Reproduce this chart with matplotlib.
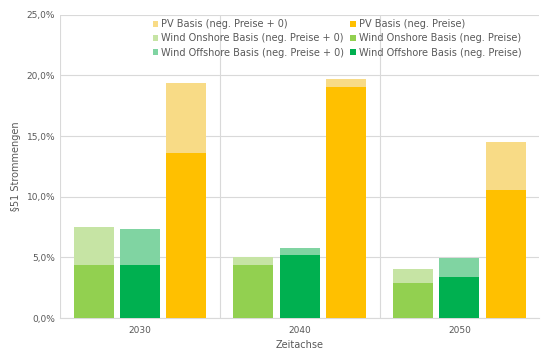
import numpy as np
import matplotlib
matplotlib.use("Agg")
import matplotlib.pyplot as plt
from matplotlib.ticker import FuncFormatter

# ------------------------------------------------------------------ data (%)
years = ["2030", "2040", "2050"]

onshore_neg  = [4.4, 4.35, 2.9]    # Wind Onshore Basis (neg. Preise)
onshore_zero = [7.5, 5.0, 4.0]     # Wind Onshore Basis (neg. Preise + 0)
offshore_neg  = [4.4, 5.2, 3.4]    # Wind Offshore Basis (neg. Preise)
offshore_zero = [7.35, 5.8, 4.95]  # Wind Offshore Basis (neg. Preise + 0)
pv_neg  = [13.6, 19.05, 10.55]     # PV Basis (neg. Preise)
pv_zero = [19.4, 19.7, 14.55]      # PV Basis (neg. Preise + 0)

y_ticks = [0, 5, 10, 15, 20, 25]

# ------------------------------------------------------------------ style
C_ON_D, C_ON_L = "#92D050", "#C6E4A4"
C_OFF_D, C_OFF_L = "#00B050", "#80D4A2"
C_PV_D, C_PV_L = "#FFC000", "#F8DB86"
GRID = "#D9D9D9"
TXT = "#595959"

fig = plt.figure(figsize=(5.42, 3.51), dpi=100)
ax = fig.add_axes([0.111, 0.094, 0.884, 0.864])

x = np.arange(len(years))
w = 0.25
off = 0.29

# light bars (total incl. +0) drawn behind, dark bars on top
b_on_l = ax.bar(x - off, onshore_zero, w, color=C_ON_L, zorder=2)
b_off_l = ax.bar(x, offshore_zero, w, color=C_OFF_L, zorder=2)
b_pv_l = ax.bar(x + off, pv_zero, w, color=C_PV_L, zorder=2)
b_on_d = ax.bar(x - off, onshore_neg, w, color=C_ON_D, zorder=3)
b_off_d = ax.bar(x, offshore_neg, w, color=C_OFF_D, zorder=3)
b_pv_d = ax.bar(x + off, pv_neg, w, color=C_PV_D, zorder=3)

ax.set_xlim(-0.5, len(years) - 0.5)
ax.set_ylim(0, 25)
ax.set_yticks(y_ticks)
ax.yaxis.set_major_formatter(FuncFormatter(lambda v, _: f"{v:.1f}%".replace(".", ",")))
ax.set_xticks(x)
ax.set_xticklabels(years)
ax.tick_params(axis="both", length=0, colors=TXT, labelsize=6.5)
ax.tick_params(axis="x", pad=6)

ax.yaxis.grid(True, color=GRID, linewidth=0.8, zorder=0)
# category separators (no line on the right edge)
for xs in np.arange(-0.5, len(years) - 1, 1.0):
    ax.axvline(xs, color=GRID, linewidth=0.8, zorder=0)
for s in ["top", "right", "left"]:
    ax.spines[s].set_visible(False)
ax.spines["bottom"].set_color(GRID)

ax.set_ylabel("§51 Strommengen", color=TXT, fontsize=7, labelpad=4)
ax.set_xlabel("Zeitachse", color=TXT, fontsize=7, labelpad=3)

handles = [b_pv_l, b_on_l, b_off_l, b_pv_d, b_on_d, b_off_d]
labels = [
    "PV Basis (neg. Preise + 0)",
    "Wind Onshore Basis (neg. Preise + 0)",
    "Wind Offshore Basis (neg. Preise + 0)",
    "PV Basis (neg. Preise)",
    "Wind Onshore Basis (neg. Preise)",
    "Wind Offshore Basis (neg. Preise)",
]
leg = ax.legend(handles, labels, ncol=2, loc="upper right",
                bbox_to_anchor=(0.975, 1.005), frameon=False, fontsize=7,
                handlelength=0.6, handleheight=0.6, handletextpad=0.3,
                columnspacing=0.6, labelspacing=0.45, borderaxespad=0.2)
for t in leg.get_texts():
    t.set_color(TXT)

plt.savefig("out.png", dpi=100)
